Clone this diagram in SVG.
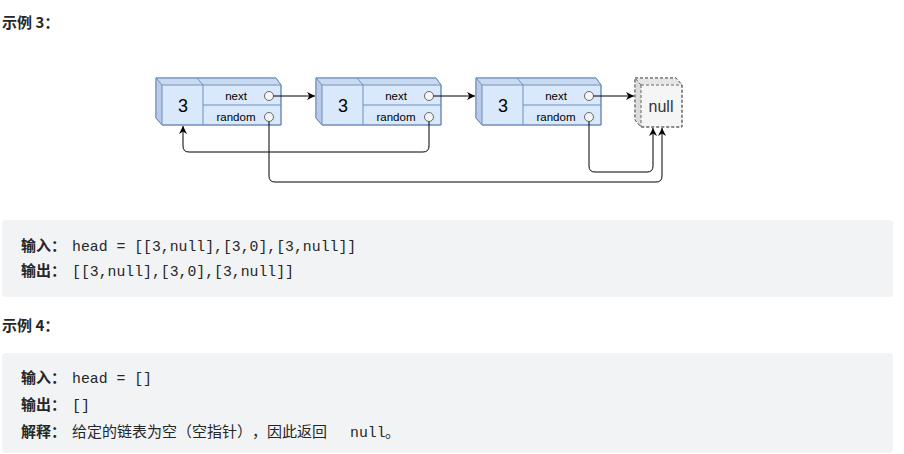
<svg xmlns="http://www.w3.org/2000/svg" width="904" height="454" viewBox="0 0 904 454">
<defs>
<style>
.h{font-family:"Noto Sans CJK SC","Liberation Sans",sans-serif;font-weight:bold;font-size:15px;fill:#262626}
.cn{font-family:"Noto Sans CJK SC",sans-serif;font-size:15px;fill:#262626}
.mono{font-family:"Liberation Mono","DejaVu Sans Mono",monospace;font-size:14.8px;fill:#262626}
.box{fill:#f2f3f5}
.cube{fill:#dae8fc;stroke:#6c8ebf;stroke-width:1}
.shadeT{fill:#c9d9f0}
.shadeL{fill:#b9cbe6}
.ln{stroke:#6c8ebf;stroke-width:1;fill:none}
.val{font-family:"Liberation Sans",sans-serif;font-size:18px;fill:#000;text-anchor:middle}
.fld{font-family:"Liberation Sans",sans-serif;font-size:11.5px;fill:#000;text-anchor:middle}
.dot{fill:#f5f5f5;stroke:#666;stroke-width:1}
.con{stroke:#000;stroke-width:1;fill:none}
.nullc{fill:#f5f5f5;stroke:#666;stroke-width:1;stroke-dasharray:3 2}
</style>
<marker id="ah" viewBox="0 0 10 10" refX="10" refY="5" markerWidth="8" markerHeight="8" orient="auto" markerUnits="userSpaceOnUse">
<path d="M0,0 L10,5 L0,10 L3,5 Z" fill="#000"/>
</marker>
<g id="cubeShape">
<path class="cube" d="M0,0 H120 L125,7 V47 H6 L0,40 Z"/>
<path class="shadeT" d="M0.5,0.5 H119.7 L124.5,6.5 H6 Z"/>
<path class="shadeL" d="M0.5,0.5 L6,7 V46.5 L0.5,39.8 Z"/>
<path class="ln" d="M0,0 H120 L125,7 V47 H6 L0,40 Z"/>
<path class="ln" d="M6,7 H125 M6,7 L0,0 M6,7 V47 M47,7 V47 M41,0 L47,7 M47,27 H125"/>
<circle class="dot" cx="113" cy="18" r="4.5"/>
<circle class="dot" cx="113" cy="39" r="4.5"/>
<text class="fld" x="80" y="22">next</text>
<text class="fld" x="80" y="43">random</text>
<text class="val" x="27" y="34">3</text>
</g>
</defs>
<rect width="904" height="454" fill="#fff"/>
<text class="h" x="2" y="28">示例 3：</text>
<g id="node1"><use href="#cubeShape" x="156" y="78"/></g>
<g id="node2"><use href="#cubeShape" x="316" y="78"/></g>
<g id="node3"><use href="#cubeShape" x="476" y="78"/></g>
<g id="nullnode">
<path class="nullc" d="M635,78 H676 L682,85 V127 H641 L635,120 Z" fill="#f5f5f5"/>
<path d="M635.5,78.5 H676 L681.5,84.5 H641 Z" fill="#e6e6e6"/>
<path d="M635.5,78.5 L641,85 V126.5 L635.5,120 Z" fill="#dcdcdc"/>
<path class="nullc" style="fill:none" d="M635,78 H676 L682,85 V127 H641 L635,120 Z M641,85 H682 M641,85 L635,78 M641,85 V127"/>
<text x="661" y="112" font-family="Liberation Sans,sans-serif" font-size="16" fill="#333" text-anchor="middle">null</text>
</g>
<g id="connectors">
<path class="con" marker-end="url(#ah)" d="M273.5,96 H315"/>
<path class="con" marker-end="url(#ah)" d="M433.5,96 H475"/>
<path class="con" marker-end="url(#ah)" d="M593.5,96 H634"/>
<path class="con" marker-end="url(#ah)" d="M429,121.5 V146 Q429,152 423,152 H189 Q183,152 183,146 V126"/>
<path class="con" marker-end="url(#ah)" d="M269,121.5 V176 Q269,182 275,182 H656 Q662,182 662,176 V128"/>
<path class="con" marker-end="url(#ah)" d="M589,121.5 V166 Q589,172 595,172 H647 Q653,172 653,166 V128"/>
</g>
<rect class="box" x="2" y="220" width="891" height="77" rx="4"/>
<text class="h" x="21" y="251">输入：</text>
<text class="mono" x="72" y="251">head = [[3,null],[3,0],[3,null]]</text>
<text class="h" x="21" y="276">输出：</text>
<text class="mono" x="72" y="276">[[3,null],[3,0],[3,null]]</text>
<text class="h" x="2" y="331">示例 4：</text>
<rect class="box" x="2" y="353" width="891" height="100" rx="4"/>
<text class="h" x="21" y="383">输入：</text>
<text class="mono" x="72" y="383">head = []</text>
<text class="h" x="21" y="410">输出：</text>
<text class="mono" x="72" y="410">[]</text>
<text class="h" x="21" y="437">解释：</text>
<text class="cn" y="437" x="72 87 102 117 132 147 162 177 192 207 222 237 252 267 282 297 312">给定的链表为空（空指针），因此返回</text>
<text class="mono" x="350" y="437">null</text>
<text class="cn" x="385" y="437">。</text>
</svg>
